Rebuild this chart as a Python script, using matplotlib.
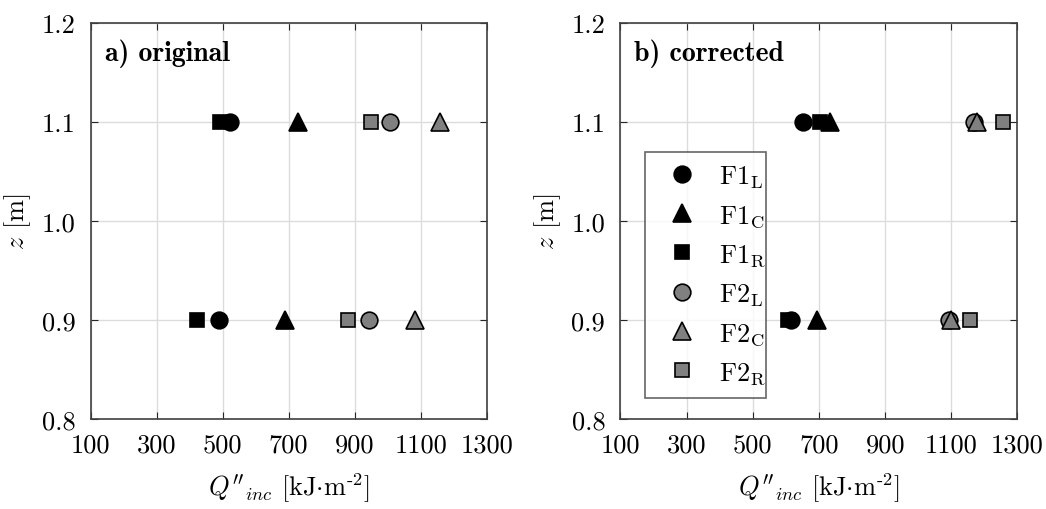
import matplotlib
matplotlib.use("Agg")
import matplotlib.pyplot as plt

plt.rcParams['font.family'] = ['cmr10', 'DejaVu Serif']
plt.rcParams['mathtext.fontset'] = 'cm'
plt.rcParams['axes.unicode_minus'] = False

# heights of the two measurement points
z_vals = [1.1, 0.9]

series = ['F1_L', 'F1_C', 'F1_R', 'F2_L', 'F2_C', 'F2_R']
labels = [r'$\mathrm{F1}_\mathrm{L}$', r'$\mathrm{F1}_\mathrm{C}$', r'$\mathrm{F1}_\mathrm{R}$',
          r'$\mathrm{F2}_\mathrm{L}$', r'$\mathrm{F2}_\mathrm{C}$', r'$\mathrm{F2}_\mathrm{R}$']

# Q''_inc at z = 1.1 and z = 0.9
original = {
    'F1_L': [522, 490],
    'F1_C': [727, 690],
    'F1_R': [492, 423],
    'F2_L': [1007, 944],
    'F2_C': [1159, 1084],
    'F2_R': [949, 879],
}
corrected = {
    'F1_L': [651, 616],
    'F1_C': [734, 694],
    'F1_R': [704, 605],
    'F2_L': [1169, 1093],
    'F2_C': [1178, 1100],
    'F2_R': [1256, 1157],
}

xticks = [100, 300, 500, 700, 900, 1100, 1300]
yticks = [0.8, 0.9, 1.0, 1.1, 1.2]

markers = {'L': 'o', 'C': '^', 'R': 's'}
sizes = {'L': 12, 'C': 13, 'R': 9.5}
colors = {'F1': 'black', 'F2': '#808080'}

fs = 19

fig = plt.figure(figsize=(10.46, 5.1), dpi=100)
ax1 = fig.add_axes([0.0867, 0.177, 0.3786, 0.7765])
ax2 = fig.add_axes([0.5932, 0.177, 0.3795, 0.7765])

for ax, data, title in [(ax1, original, 'a) original'), (ax2, corrected, 'b) corrected')]:
    handles = []
    for s, lab in zip(series, labels):
        fam, pos = s.split('_')
        h, = ax.plot(data[s], z_vals, linestyle='none', marker=markers[pos],
                     markersize=sizes[pos], markerfacecolor=colors[fam],
                     markeredgecolor='black', markeredgewidth=1.2, label=lab, zorder=3)
        handles.append(h)
    ax.set_xlim(100, 1300)
    ax.set_ylim(0.8, 1.2)
    ax.set_xticks(xticks)
    ax.set_yticks(yticks)
    ax.set_xticklabels([str(v) for v in xticks])
    ax.set_yticklabels(['%.1f' % v for v in yticks])
    ax.tick_params(direction='in', top=True, right=True, labelsize=fs, length=5,
                   color='#262626')
    ax.tick_params(axis='x', pad=10)
    ax.tick_params(axis='y', pad=11)
    ax.grid(True, color='#dcdcdc', linewidth=1)
    ax.set_axisbelow(True)
    for sp in ax.spines.values():
        sp.set_color('#404040')
        sp.set_linewidth(1.2)
    ax.set_xlabel(r"$Q''_{inc}$ [kJ$\cdot$m$^{\text{-}2}$]", fontsize=fs, labelpad=10)
    ax.set_ylabel(r'$z$ [m]', fontsize=fs, labelpad=6)
    ax.text(0.035, 0.925, title, transform=ax.transAxes, fontsize=20,
            family='cmb10', va='center', ha='left')

leg = ax2.legend(handles=handles, loc='upper left', bbox_to_anchor=(0.063, 0.674, 0.304, 0.0),
                 mode='expand', fontsize=fs, frameon=True, fancybox=False,
                 edgecolor='#404040', handletextpad=0.45, labelspacing=0.5,
                 borderpad=0.45, borderaxespad=0, handlelength=1.9)
leg.get_frame().set_linewidth(1.2)

fig.savefig('out.png', dpi=100)
